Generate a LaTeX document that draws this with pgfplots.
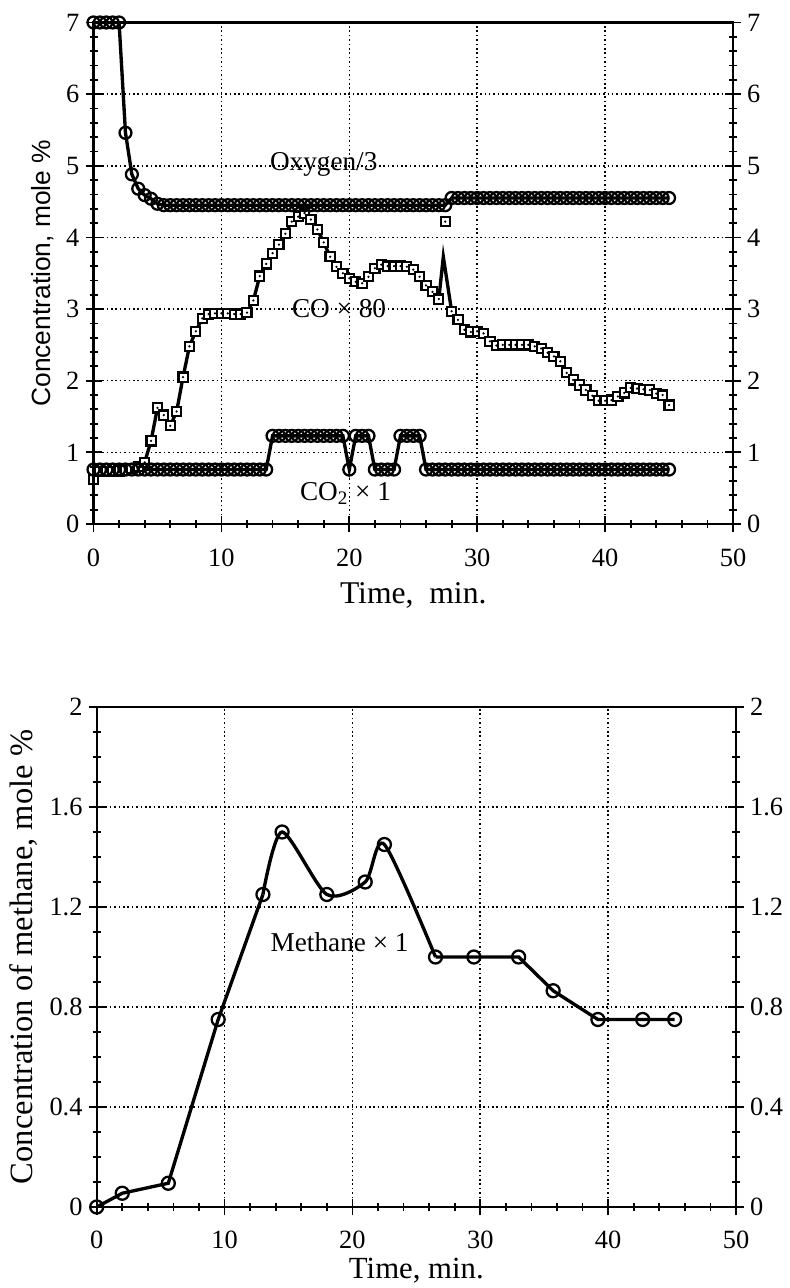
\documentclass[border=0pt]{standalone}
\usepackage{fontspec}
\setmainfont{Liberation Serif}
\setsansfont{Liberation Sans}
\usepackage{pgfplots}
\pgfplotsset{compat=1.18}
\usepackage{pgfplotstable}

% square with a dot in the middle
\pgfdeclareplotmark{sqdot}{%
  \pgfpathrectangle{\pgfqpoint{-\pgfplotmarksize}{-\pgfplotmarksize}}{\pgfqpoint{2\pgfplotmarksize}{2\pgfplotmarksize}}%
  \pgfusepathqfillstroke
  \begin{pgfscope}%
    \pgfsetfillcolor{black}%
    \pgfpathcircle{\pgfpointorigin}{0.6\pgflinewidth}%
    \pgfusepathqfill
  \end{pgfscope}%
}

% oxygen/3 and CO2 x 1
\pgfplotstableread{
t oxy co2
0 7.00 0.76
0.5 7.00 0.76
1 7.00 0.76
1.5 7.00 0.76
2 7.00 0.76
2.5 5.46 0.76
3 4.88 0.76
3.5 4.68 0.76
4 4.59 0.76
4.5 4.54 0.76
5 4.47 0.76
5.5 4.45 0.76
6 4.45 0.76
6.5 4.45 0.76
7 4.45 0.76
7.5 4.45 0.76
8 4.45 0.76
8.5 4.45 0.76
9 4.45 0.76
9.5 4.45 0.76
10 4.45 0.76
10.5 4.45 0.76
11 4.45 0.76
11.5 4.45 0.76
12 4.45 0.76
12.5 4.45 0.76
13 4.45 0.76
13.5 4.45 0.76
14 4.45 1.23
14.5 4.45 1.23
15 4.45 1.23
15.5 4.45 1.23
16 4.45 1.23
16.5 4.45 1.23
17 4.45 1.23
17.5 4.45 1.23
18 4.45 1.23
18.5 4.45 1.23
19 4.45 1.23
19.5 4.45 1.23
20 4.45 0.76
20.5 4.45 1.23
21 4.45 1.23
21.5 4.45 1.23
22 4.45 0.76
22.5 4.45 0.76
23 4.45 0.76
23.5 4.45 0.76
24 4.45 1.23
24.5 4.45 1.23
25 4.45 1.23
25.5 4.45 1.23
26 4.45 0.76
26.5 4.45 0.76
27 4.45 0.76
27.5 4.45 0.76
28 4.55 0.76
28.5 4.55 0.76
29 4.55 0.76
29.5 4.55 0.76
30 4.55 0.76
30.5 4.55 0.76
31 4.55 0.76
31.5 4.55 0.76
32 4.55 0.76
32.5 4.55 0.76
33 4.55 0.76
33.5 4.55 0.76
34 4.55 0.76
34.5 4.55 0.76
35 4.55 0.76
35.5 4.55 0.76
36 4.55 0.76
36.5 4.55 0.76
37 4.55 0.76
37.5 4.55 0.76
38 4.55 0.76
38.5 4.55 0.76
39 4.55 0.76
39.5 4.55 0.76
40 4.55 0.76
40.5 4.55 0.76
41 4.55 0.76
41.5 4.55 0.76
42 4.55 0.76
42.5 4.55 0.76
43 4.55 0.76
43.5 4.55 0.76
44 4.55 0.76
44.5 4.55 0.76
45 4.55 0.76
}\topdata

% CO x 80 (row 55 is the spike, drawn without a mark)
\pgfplotstableread{
t co
0 0.62
0.5 0.73
1 0.73
1.5 0.73
2 0.74
2.5 0.75
3 0.77
3.5 0.80
4 0.86
4.5 1.16
5 1.62
5.5 1.52
6 1.37
6.5 1.57
7 2.05
7.5 2.48
8 2.69
8.5 2.87
9 2.93
9.5 2.94
10 2.94
10.5 2.94
11 2.93
11.5 2.93
12 2.95
12.5 3.12
13 3.46
13.5 3.63
14 3.78
14.5 3.90
15 4.05
15.5 4.22
16 4.29
16.5 4.34
17 4.25
17.5 4.11
18 3.93
18.5 3.73
19 3.59
19.5 3.50
20 3.43
20.5 3.38
21 3.36
21.5 3.45
22 3.57
22.5 3.62
23 3.60
23.5 3.60
24 3.60
24.5 3.59
25 3.55
25.5 3.45
26 3.33
26.5 3.24
27 3.14
27.35 3.73
28 2.97
28.5 2.85
29 2.71
29.5 2.68
30 2.69
30.5 2.66
31 2.55
31.5 2.49
32 2.50
32.5 2.50
33 2.50
33.5 2.50
34 2.50
34.5 2.48
35 2.45
35.5 2.39
36 2.34
36.5 2.27
37 2.11
37.5 2.01
38 1.94
38.5 1.87
39 1.79
39.5 1.72
40 1.72
40.5 1.73
41 1.78
41.5 1.83
42 1.90
42.5 1.89
43 1.88
43.5 1.87
44 1.82
44.5 1.80
45 1.66
}\codata

% methane x 1
\pgfplotstableread{
t ch4
0 0
2 0.055
5.6 0.095
9.5 0.75
13 1.25
14.5 1.50
18 1.25
21 1.30
22.5 1.45
26.5 1.00
29.5 1.00
33 1.00
35.7 0.865
39.2 0.75
42.7 0.75
45.2 0.75
}\chdata

\pgfplotsset{
  base/.style={
    scale only axis,
    xmin=0, xmax=50, xtick={0,10,...,50},
    minor x tick num=4,
    xtick pos=left,
    tick align=center,
    major tick length=0.32cm,
    minor tick length=0.16cm,
    axis line style={line width=1.2pt},
    tick style={black, line width=1pt},
    /pgf/number format/assume math mode=true,
    ticklabel style={font=\fontsize{15}{18}\selectfont},
    xlabel style={font=\fontsize{18}{21}\selectfont},
  },
  gridded/.style={
    grid=major,
    major grid style={black, line width=0.9pt, dash pattern=on 0.9pt off 1.6pt},
  },
  curve/.style={black, line width=1.9pt},
  circ/.style={mark=o, mark options={line width=1.3pt, fill=white, draw=black, solid}},
  sq/.style={mark=sqdot, mark size=2.6pt, mark options={line width=1.2pt, fill=white, draw=black, solid}},
}

\begin{document}
\begin{tikzpicture}
\useasboundingbox (0,0) rectangle (15.78cm,25.76cm);

% ---------- top panel ----------
\begin{axis}[base, gridded,
  at={(1.87cm,15.28cm)}, anchor=south west,
  width=12.79cm, height=10.03cm,
  ymin=0, ymax=7, ytick={0,...,7}, minor y tick num=4,
  ytick pos=both,
  xticklabel style={yshift=-0.22cm},
  xlabel={Time,\ \ min.},
  xlabel style={yshift=-0.08cm},
  ylabel={Concentration, mole \%},
  ylabel style={font=\sffamily\fontsize{15}{18}\selectfont},
]
\addplot[curve, no marks] table[x=t, y=co] {\codata};
\addplot[only marks, sq, skip coords between index={55}{56}] table[x=t, y=co] {\codata};
\addplot[only marks, sq] coordinates {(27.5,4.22)};
\addplot[curve, circ, mark size=3.4pt] table[x=t, y=co2] {\topdata};
\addplot[curve, circ, mark size=3.4pt] table[x=t, y=oxy] {\topdata};

\node[font=\fontsize{15.5}{18}\selectfont] at (axis cs:18,5.02) {Oxygen/3};
\node[font=\fontsize{15.5}{18}\selectfont] at (axis cs:19.2,3.0) {CO × 80};
\node[font=\fontsize{15.5}{18}\selectfont] at (axis cs:19.7,0.42) {CO\textsubscript{2} × 1};
\end{axis}

\begin{axis}[base,
  at={(1.87cm,15.28cm)}, anchor=south west,
  width=12.79cm, height=10.03cm,
  ymin=0, ymax=7, ytick={0,...,7},
  xtick=\empty,
  ytick pos=right, yticklabel pos=right,
]
\end{axis}

% ---------- bottom panel ----------
\begin{axis}[base, gridded,
  at={(1.934cm,1.62cm)}, anchor=south west,
  width=12.786cm, height=10cm,
  ymin=0, ymax=2, ytick={0,0.4,0.8,1.2,1.6,2}, minor y tick num=3,
  ytick pos=both,
  xticklabel style={yshift=-0.2cm},
  xlabel={Time, min.},
  xlabel style={yshift=0.06cm, font=\fontsize{17.5}{20}\selectfont},
  ylabel={Concentration of methane, mole \%},
  ylabel style={font=\fontsize{18.5}{22}\selectfont},
]
% straight runs at both ends, rounded humps in the middle
\addplot[curve, no marks, restrict x to domain=0:13] table[x=t, y=ch4] {\chdata};
\addplot[curve, no marks, smooth, tension=0.45, restrict x to domain=13:26.5] table[x=t, y=ch4] {\chdata};
\addplot[curve, no marks, restrict x to domain=26.5:46] table[x=t, y=ch4] {\chdata};
\addplot[only marks, circ, mark size=3.7pt] table[x=t, y=ch4] {\chdata};
\node[font=\fontsize{15.5}{18}\selectfont] at (axis cs:19,1.06) {Methane × 1};
\end{axis}

\begin{axis}[base,
  at={(1.934cm,1.62cm)}, anchor=south west,
  width=12.786cm, height=10cm,
  ymin=0, ymax=2, ytick={0,0.4,0.8,1.2,1.6,2},
  xtick=\empty,
  ytick pos=right, yticklabel pos=right,
]
\end{axis}
\end{tikzpicture}
\end{document}
